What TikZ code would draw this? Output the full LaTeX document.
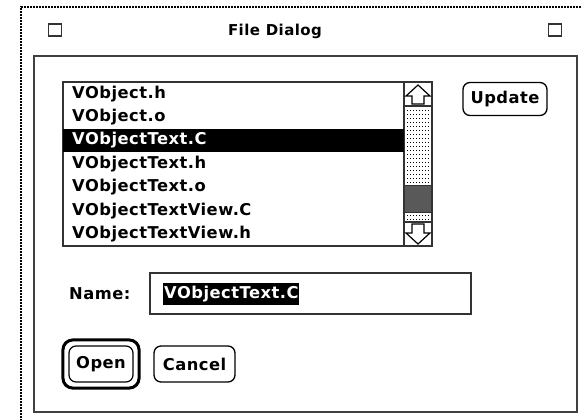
\documentclass[tikz,border=0pt]{standalone}
\usepackage{fontspec}
\newfontfamily\macfont{DejaVu Sans Bold}[LetterSpace=3]
\tikzset{
  frame/.style={draw=black!75, line width=1.6pt},
  thin/.style={draw=black!80, line width=1.2pt},
  txt/.style={font=\macfont\fontsize{16.3}{17}\selectfont, inner sep=0pt, anchor=west},
  btn/.style={draw=black, line width=1.3pt, rounded corners=7pt, font=\macfont\fontsize{16.3}{17}\selectfont, inner sep=0pt},
  box/.style={draw=black!80, line width=1.3pt, fill=white},
}
\begin{document}
\begin{tikzpicture}[x=1pt, y=-1pt]
\useasboundingbox (0,0) rectangle (581,420);
% outer window (dotted border, running off the right and bottom)
\draw[draw=black, line width=2.5pt, dash pattern=on 2pt off 1pt] (21,430) -- (21,7) -- (590,7);
% title bar
\node[box, minimum width=13pt, minimum height=12pt] (close) at (55,30) {};
\node[box, minimum width=13pt, minimum height=12pt] (zoom) at (555,30) {};
\node[font=\macfont\fontsize{15}{16}\selectfont, inner sep=0pt] (title) at (275,31) {File Dialog};
% inner panel
\draw[frame] (34,56) rectangle (577,412);
\coordinate (panel) at (34,56);
% list box
\draw[thin, fill=white] (63,82) rectangle (432,246);
\draw[thin] (404,82) -- (404,246);
\fill[black] (63,129) rectangle (404,152);
\node[txt] (r1) at (72,94) {VObject.h};
\node[txt] (r2) at (72,117) {VObject.o};
\node[txt, text=white] (r3) at (72,140.5) {VObjectText.C};
\node[txt] (r4) at (72,164) {VObjectText.h};
\node[txt] (r5) at (72,187) {VObjectText.o};
\node[txt] (r6) at (72,211) {VObjectTextView.C};
\node[txt] (r7) at (72,234) {VObjectTextView.h};
% scroll bar
\draw[thin] (404,106) -- (432,106);
\draw[thin] (404,222) -- (432,222);
\fill[black!65] (405,185) rectangle (431,212);
\draw[black!80, line width=0.8pt] (404,185) -- (432,185) (404,212) -- (432,212);
\foreach \yy in {110,114,...,182} {
  \foreach \xx in {407,410,...,429} { \fill[black] (\xx,\yy) rectangle ++(1,1); }
}
\foreach \yy in {215,219} {
  \foreach \xx in {407,410,...,429} { \fill[black] (\xx,\yy) rectangle ++(1,1); }
}
% up arrow
\draw[black, line width=1.2pt, line join=miter] (418,85) -- (430,96) -- (424,96) -- (424,104) -- (412,104) -- (412,96) -- (406,96) -- cycle;
% down arrow
\draw[black, line width=1.2pt, line join=miter] (418,244) -- (430,233) -- (424,233) -- (424,224) -- (412,224) -- (412,233) -- (406,233) -- cycle;
% update button
\node[btn, minimum width=84pt, minimum height=33pt] (update) at (505,99) {Update};
% name field
\node[txt] (namelbl) at (69,294) {Name:};
\draw[thin] (150,273) rectangle (471,314);
\node[txt, fill=black, text=white, inner xsep=1pt, minimum height=22pt] (namefield) at (163,294) {VObjectText.C};
% buttons
\node[btn, line width=1.2pt, minimum width=64pt, minimum height=36pt] (open) at (101,364) {Open};
\draw[black, line width=3pt, rounded corners=10pt] ([shift={(-5.5pt,5.5pt)}]open.north west) rectangle ([shift={(5.5pt,-5.5pt)}]open.south east);
\node[btn, minimum width=81pt, minimum height=36pt] (cancel) at (194.5,364) {Cancel};
\end{tikzpicture}
\end{document}
